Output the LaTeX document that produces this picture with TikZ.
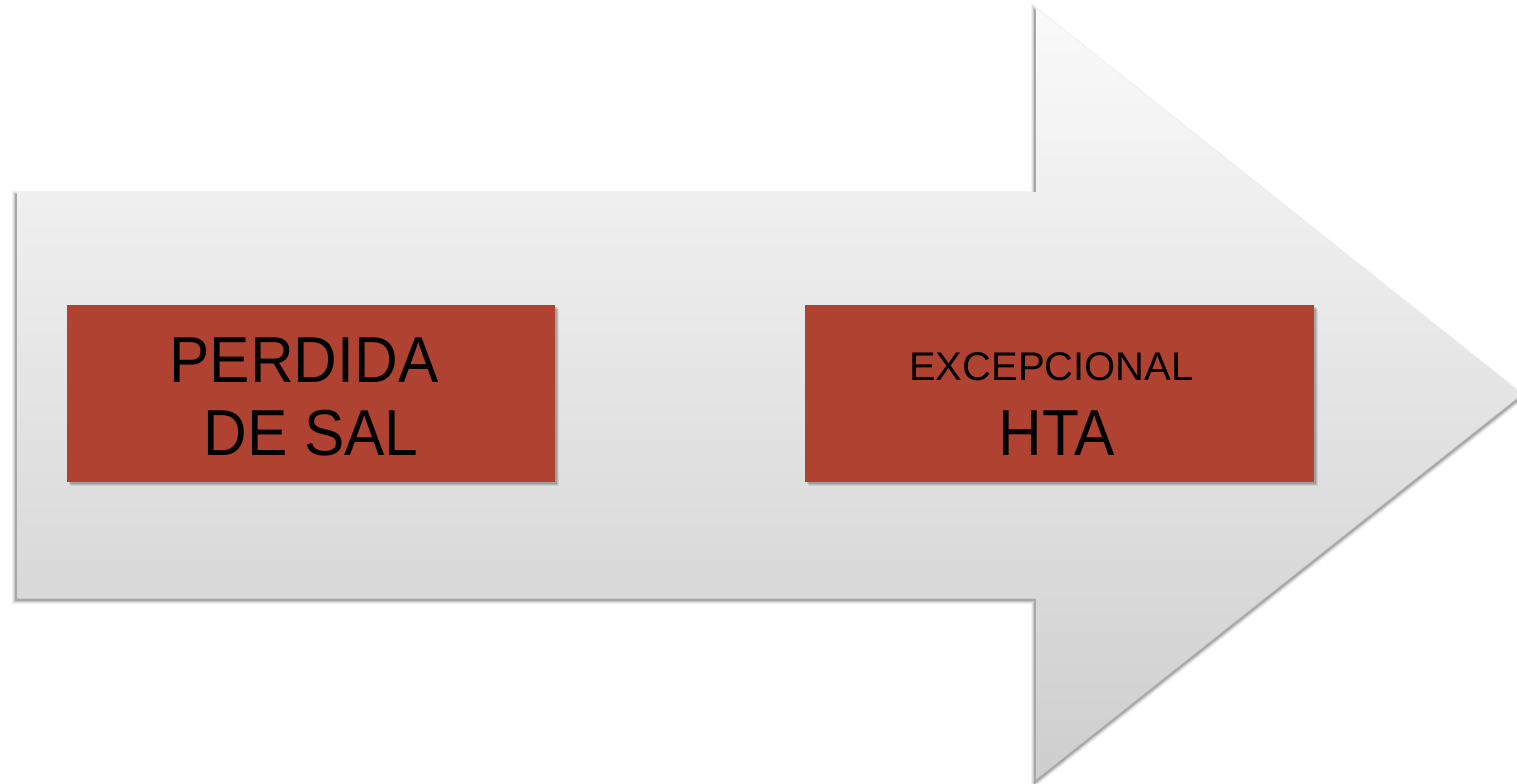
\documentclass[tikz,border=0pt]{standalone}
\usepackage{fontspec}
\setmainfont{Liberation Sans}
\usetikzlibrary{calc}
\definecolor{brick}{RGB}{176,66,50}
\definecolor{arrowtop}{RGB}{250,250,250}
\definecolor{arrowbot}{RGB}{206,206,206}
\newcommand{\narrow}[1]{\scalebox{0.93}[1]{#1}}
\tikzset{
  px/.style={x=0.5pt,y=-0.5pt},
  brickbox/.style={fill=brick,draw=none},
  bigtxt/.style={font=\fontsize{32.5}{36}\selectfont,text=black,inner sep=0pt,anchor=base},
  smalltxt/.style={font=\fontsize{20}{24}\selectfont,text=black,inner sep=0pt,anchor=base},
}
\begin{document}
\begin{tikzpicture}[px]
\useasboundingbox (0,0) rectangle (1517,783);
\fill[white] (0,0) rectangle (1517,783);
% outline of the big arrow
\def\arrowpath{(17,192) -- (1036,192) -- (1036,8) -- (1522,394) -- (1036,779) -- (1036,597) -- (17,597) -- cycle}
% soft shadow under the arrow
\foreach \w/\o in {8/0.05,6/0.07,4/0.10,2/0.16}{
  \draw[line width=\w*0.5pt,black,opacity=\o,line join=miter,shift={(-1,3)}] \arrowpath;
}
\shade[top color=arrowtop,bottom color=arrowbot] \arrowpath;
% red label boxes with their shadows
\foreach \d/\o in {4/0.08,3/0.10,2/0.14}{
  \fill[black,opacity=\o] (67+\d,305+\d) rectangle (555+\d,482+\d);
  \fill[black,opacity=\o] (805+\d,305+\d) rectangle (1314+\d,482+\d);
}
\node[brickbox,minimum width=244pt,minimum height=88.5pt,inner sep=0pt] (loss) at (311,393.5) {};
\node[brickbox,minimum width=254.5pt,minimum height=88.5pt,inner sep=0pt] (hta) at (1059.5,393.5) {};
% texts
\node[bigtxt] (l1) at (304,382) {\narrow{PERDIDA}};
\node[bigtxt] (l2) at (311,455) {\narrow{DE SAL}};
\node[smalltxt] (h1) at (1051.5,380) {EXCEPCIONAL};
\node[bigtxt] (h2) at (1057,455) {\narrow{HTA}};
\end{tikzpicture}
\end{document}
